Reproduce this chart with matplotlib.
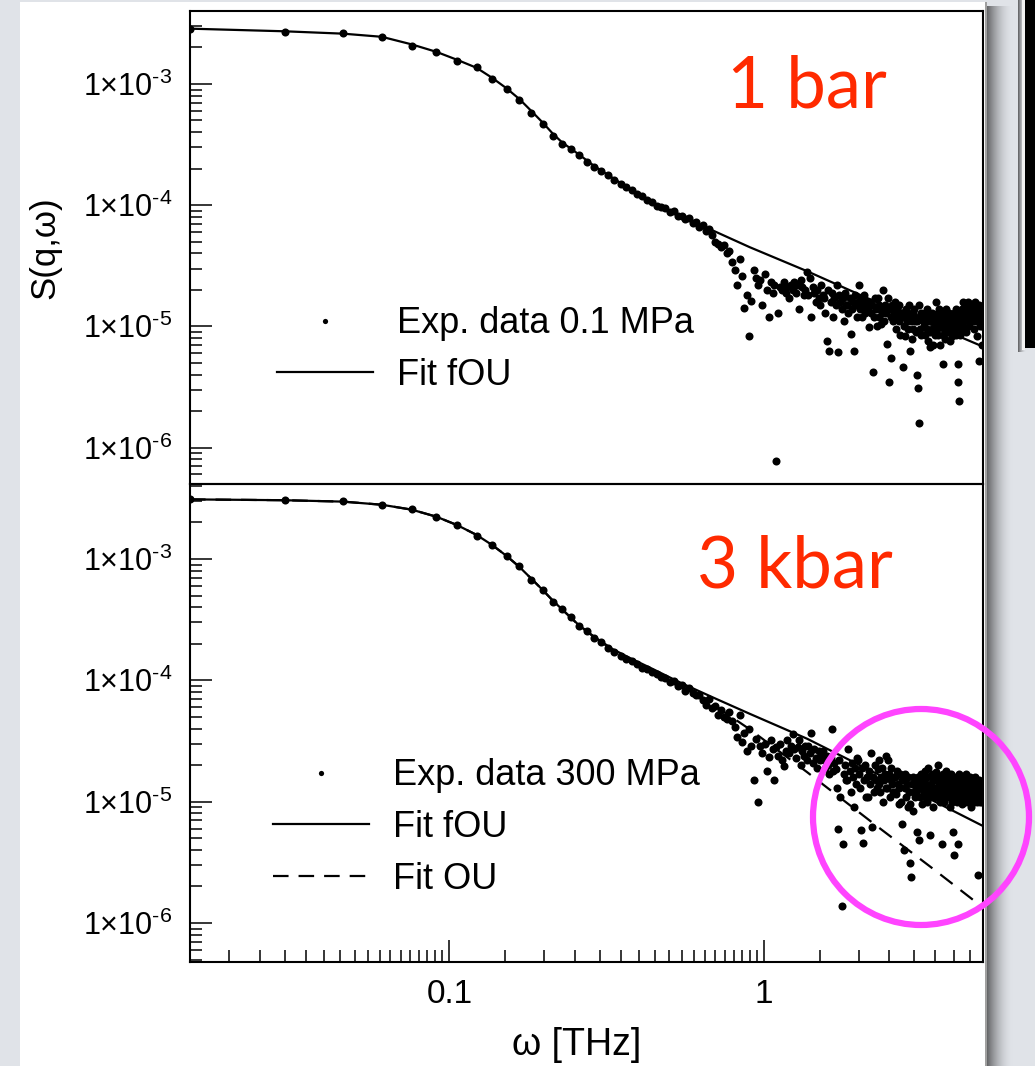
import numpy as np
import matplotlib
matplotlib.use("Agg")
import matplotlib.pyplot as plt
from matplotlib.ticker import LogLocator, NullFormatter
from matplotlib.patches import Rectangle, Circle

plt.rcParams['font.family'] = ['Liberation Sans', 'DejaVu Sans']
plt.rcParams['mathtext.default'] = 'regular'

# ---------------- data ----------------
omega = [
    0.015, 0.030, 0.046, 0.061, 0.076, 0.091, 0.106, 0.122, 0.137, 0.152,
    0.167, 0.182, 0.198, 0.213, 0.228, 0.243, 0.258, 0.274, 0.289, 0.304,
    0.319, 0.334, 0.350, 0.365, 0.380, 0.395, 0.410, 0.426, 0.441, 0.456,
    0.471, 0.486, 0.502, 0.517, 0.532, 0.547, 0.562, 0.578, 0.593, 0.608,
    0.623, 0.638, 0.654, 0.669, 0.684, 0.699, 0.714, 0.730, 0.745, 0.760,
    0.775, 0.790, 0.806, 0.821, 0.836, 0.851, 0.866, 0.882, 0.897, 0.912,
    0.927, 0.942, 0.958, 0.973, 0.988, 1.003, 1.018, 1.034, 1.049, 1.064,
    1.079, 1.094, 1.110, 1.125, 1.140, 1.155, 1.170, 1.186, 1.201, 1.216,
    1.231, 1.246, 1.262, 1.277, 1.292, 1.307, 1.322, 1.338, 1.353, 1.368,
    1.383, 1.398, 1.414, 1.429, 1.444, 1.459, 1.474, 1.490, 1.505, 1.520,
    1.535, 1.550, 1.566, 1.581, 1.596, 1.611, 1.626, 1.642, 1.657, 1.672,
    1.687, 1.702, 1.718, 1.733, 1.748, 1.763, 1.778, 1.794, 1.809, 1.824,
    1.839, 1.854, 1.870, 1.885, 1.900, 1.915, 1.930, 1.946, 1.961, 1.976,
    1.991, 2.006, 2.022, 2.037, 2.052, 2.067, 2.082, 2.098, 2.113, 2.128,
    2.143, 2.158, 2.174, 2.189, 2.204, 2.219, 2.234, 2.250, 2.265, 2.280,
    2.295, 2.310, 2.326, 2.341, 2.356, 2.371, 2.386, 2.402, 2.417, 2.432,
    2.447, 2.462, 2.478, 2.493, 2.508, 2.523, 2.538, 2.554, 2.569, 2.584,
    2.599, 2.614, 2.630, 2.645, 2.660, 2.675, 2.690, 2.706, 2.721, 2.736,
    2.751, 2.766, 2.782, 2.797, 2.812, 2.827, 2.842, 2.858, 2.873, 2.888,
    2.903, 2.918, 2.934, 2.949, 2.964, 2.979, 2.994, 3.010, 3.025, 3.040,
    3.055, 3.070, 3.086, 3.101, 3.116, 3.131, 3.146, 3.162, 3.177, 3.192,
    3.207, 3.222, 3.238, 3.253, 3.268, 3.283, 3.298, 3.314, 3.329, 3.344,
    3.359, 3.374, 3.390, 3.405, 3.420, 3.435, 3.450, 3.466, 3.481, 3.496,
    3.511, 3.526, 3.542, 3.557, 3.572, 3.587, 3.602, 3.618, 3.633, 3.648,
    3.663, 3.678, 3.694, 3.709, 3.724, 3.739, 3.754, 3.770, 3.785, 3.800,
    3.815, 3.830, 3.846, 3.861, 3.876, 3.891, 3.906, 3.922, 3.937, 3.952,
    3.967, 3.982, 3.998, 4.013, 4.028, 4.043, 4.058, 4.074, 4.089, 4.104,
    4.119, 4.134, 4.150, 4.165, 4.180, 4.195, 4.210, 4.226, 4.241, 4.256,
    4.271, 4.286, 4.302, 4.317, 4.332, 4.347, 4.362, 4.378, 4.393, 4.408,
    4.423, 4.438, 4.454, 4.469, 4.484, 4.499, 4.514, 4.530, 4.545, 4.560,
    4.575, 4.590, 4.606, 4.621, 4.636, 4.651, 4.666, 4.682, 4.697, 4.712,
    4.727, 4.742, 4.758, 4.773, 4.788, 4.803, 4.818, 4.834, 4.849, 4.864,
    4.879, 4.894, 4.910, 4.925, 4.940, 4.955,
]

s_exp_01MPa = [
    2.86e-3, 2.66e-3, 2.61e-3, 2.42e-3, 2.07e-3, 1.82e-3, 1.56e-3, 1.37e-3, 1.09e-3, 0.915e-3,
    0.74e-3, 0.58e-3, 0.47e-3, 0.374e-3, 0.321e-3, 0.29e-3, 0.258e-3, 0.228e-3, 0.205e-3, 0.190e-3,
    1.78e-4, 1.60e-4, 1.50e-4, 1.40e-4, 1.33e-4, 1.24e-4, 1.18e-4, 1.10e-4, 1.06e-4, 0.99e-4,
    9.6e-5, 9.5e-5, 8.8e-5, 8.9e-5, 8.2e-5, 8.1e-5, 7.7e-5, 7.9e-5, 7.1e-5, 7.3e-5,
    6.6e-5, 6.8e-5, 6.1e-5, 6.3e-5, 5.7e-5, 5.0e-5, 4.8e-5, 4.5e-5, 4.7e-5, 4.0e-5,
    4.2e-5, 3.4e-5, 2.9e-5, 2.2e-5, 3.6e-5, 2.6e-5, 1.43e-5, 1.8e-5, 8.4e-6, 1.62e-5,
    2.9e-5, 2.5e-5, 2.2e-5, 2.4e-5, 1.5e-5, 2.7e-5, 2.0e-5, 1.2e-5, 2.3e-5, 1.9e-5,
    2.2e-5, 7.8e-7, 1.3e-5, 2.1e-5, 2.0e-5, 2.3e-5, 1.9e-5, 2.1e-5, 1.7e-5, 2.2e-5,
    2.0e-5, 2.3e-5, 1.9e-5, 2.2e-5, 1.4e-5, 2.4e-5, 2.1e-5, 1.8e-5, 2.0e-5, 2.8e-5,
    1.8e-5, 2.5e-5, 1.2e-5, 2.1e-5, 1.9e-5, 1.6e-5, 2.0e-5, 1.7e-5, 1.5e-5, 2.2e-5,
    1.8e-5, 1.7e-5, 1.3e-5, 7.6e-6, 2.0e-5, 6.3e-6, 1.6e-5, 1.9e-5, 1.2e-5, 1.7e-5,
    1.5e-5, 2.2e-5, 6.1e-6, 1.8e-5, 1.6e-5, 1.4e-5, 1.7e-5, 1.1e-5, 1.9e-5, 1.5e-5,
    1.5e-5, 1.3e-5, 1.7e-5, 8.6e-6, 1.4e-5, 1.6e-5, 6.3e-6, 1.8e-5, 1.5e-5, 1.2e-5,
    1.6e-5, 2.2e-5, 1.4e-5, 1.7e-5, 1.2e-5, 1.5e-5, 1.8e-5, 1.3e-5, 1.6e-5, 1.4e-5,
    1.4e-5, 9.8e-6, 1.6e-5, 1.3e-5, 1.5e-5, 4.2e-6, 1.2e-5, 1.7e-5, 1.4e-5, 1.0e-5,
    1.7e-5, 1.2e-5, 1.5e-5, 1.4e-5, 1.05e-5, 1.3e-5, 2.0e-5, 1.1e-5, 1.5e-5, 1.4e-5,
    1.3e-5, 7.2e-6, 1.7e-5, 3.5e-6, 1.4e-5, 5.5e-6, 1.2e-5, 1.5e-5, 1.1e-5, 1.3e-5,
    1.2e-5, 1.6e-5, 9.5e-6, 1.4e-5, 1.3e-5, 1.1e-5, 1.5e-5, 8.5e-6, 1.3e-5, 1.2e-5,
    1.3e-5, 4.6e-6, 1.0e-5, 1.2e-5, 8.4e-6, 1.4e-5, 1.1e-5, 1.3e-5, 9.5e-6, 1.5e-5,
    1.2e-5, 6.2e-6, 1.1e-5, 7.9e-6, 1.3e-5, 9.5e-6, 1.4e-5, 1.1e-5, 1.2e-5, 9.0e-6,
    1.1e-5, 4.0e-6, 3.1e-6, 1.6e-6, 1.5e-5, 9.5e-6, 1.3e-5, 8.5e-6, 1.2e-5, 1.1e-5,
    1.2e-5, 1.0e-5, 1.3e-5, 8.5e-6, 1.1e-5, 1.4e-5, 9.5e-6, 7.5e-6, 1.2e-5, 1.1e-5,
    9.0e-6, 6.7e-6, 1.1e-5, 1.3e-5, 9.5e-6, 7.0e-6, 1.2e-5, 1.25e-5, 1.0e-5, 8.5e-6,
    1.1e-5, 1.6e-5, 9.5e-6, 1.3e-5, 8.5e-6, 1.2e-5, 1.4e-5, 7.0e-6, 1.1e-5, 1.3e-5,
    1.05e-5, 1.2e-5, 4.9e-6, 8.5e-6, 1.3e-5, 9.5e-6, 1.1e-5, 7.9e-6, 1.4e-5, 1.0e-5,
    1.1e-5, 1.2e-5, 9.0e-6, 1.3e-5, 9.5e-6, 1.15e-5, 7.5e-6, 1.25e-5, 1.0e-5, 1.1e-5,
    8.4e-6, 9.2e-6, 1.2e-5, 1.3e-5, 9.5e-6, 1.1e-5, 8.5e-6, 1.4e-5, 1.0e-5, 1.2e-5,
    4.9e-6, 3.5e-6, 2.4e-6, 1.1e-5, 8.5e-6, 1.3e-5, 9.5e-6, 1.2e-5, 1.4e-5, 1.0e-5,
    1.2e-5, 1.6e-5, 1.4e-5, 1.1e-5, 1.3e-5, 9.5e-6, 1.5e-5, 1.2e-5, 9.0e-6, 1.3e-5,
    1.2e-5, 1.3e-5, 1.6e-5, 1.4e-5, 1.0e-5, 1.2e-5, 1.5e-5, 1.1e-5, 1.3e-5, 1.4e-5,
    1.3e-5, 1.5e-5, 1.1e-5, 1.2e-5, 1.4e-5, 9.5e-6, 1.3e-5, 1.6e-5, 1.2e-5, 1.1e-5,
    1.2e-5, 1.4e-5, 8.4e-6, 1.3e-5, 1.1e-5, 1.5e-5, 1.2e-5, 5.2e-6, 1.3e-5, 1.0e-5,
    1.1e-5, 1.3e-5, 7.0e-6, 1.2e-5, 1.0e-5, 1.4e-5,
]

s_exp_300MPa = [
    3.10e-3, 3.04e-3, 2.99e-3, 2.78e-3, 2.57e-3, 2.20e-3, 1.92e-3, 1.56e-3, 1.31e-3, 1.05e-3,
    0.87e-3, 0.67e-3, 0.56e-3, 0.44e-3, 0.39e-3, 0.33e-3, 0.28e-3, 0.255e-3, 0.225e-3, 0.205e-3,
    1.85e-4, 1.72e-4, 1.58e-4, 1.50e-4, 1.45e-4, 1.36e-4, 1.27e-4, 1.25e-4, 1.17e-4, 1.12e-4,
    1.07e-4, 1.04e-4, 9.6e-5, 9.8e-5, 9.0e-5, 9.2e-5, 8.2e-5, 8.6e-5, 7.9e-5, 7.5e-5,
    7.5e-5, 6.9e-5, 6.3e-5, 7.0e-5, 5.9e-5, 6.1e-5, 5.2e-5, 5.7e-5, 5.0e-5, 4.8e-5,
    5.5e-5, 4.6e-5, 4.1e-5, 3.4e-5, 5.2e-5, 3.1e-5, 3.7e-5, 2.6e-5, 4.0e-5, 2.9e-5,
    1.5e-5, 3.3e-5, 1.0e-5, 2.9e-5, 2.5e-5, 3.0e-5, 1.8e-5, 2.35e-5, 3.2e-5, 2.7e-5,
    1.5e-5, 2.8e-5, 2.4e-5, 3.0e-5, 2.2e-5, 1.95e-5, 2.6e-5, 3.2e-5, 2.5e-5, 2.9e-5,
    3.6e-5, 2.7e-5, 2.3e-5, 2.8e-5, 3.2e-5, 2.0e-5, 2.6e-5, 2.4e-5, 2.9e-5, 2.2e-5,
    2.9e-5, 2.5e-5, 3.7e-5, 2.1e-5, 2.7e-5, 2.3e-5, 1.9e-5, 2.6e-5, 2.2e-5, 2.4e-5,
    2.6e-5, 2.2e-5, 1.9e-5, 2.4e-5, 2.0e-5, 1.7e-5, 2.3e-5, 4.0e-5, 1.8e-5, 2.1e-5,
    1.85e-5, 1.3e-5, 6.0e-6, 2.2e-5, 1.1e-5, 1.37e-6, 4.5e-6, 1.7e-5, 2.0e-5, 1.5e-5,
    1.5e-5, 2.7e-5, 1.8e-5, 1.2e-5, 2.1e-5, 1.6e-5, 9.0e-6, 1.9e-5, 1.4e-5, 2.3e-5,
    2.2e-5, 1.7e-5, 1.3e-5, 5.8e-6, 1.9e-5, 4.6e-6, 1.5e-5, 2.0e-5, 1.1e-5, 1.6e-5,
    1.1e-5, 1.8e-5, 1.4e-5, 2.5e-5, 6.2e-6, 1.6e-5, 1.2e-5, 2.0e-5, 1.5e-5, 1.3e-5,
    1.85e-5, 1.4e-5, 2.2e-5, 1.2e-5, 1.6e-5, 1.9e-5, 1.0e-5, 1.5e-5, 1.7e-5, 1.3e-5,
    2.4e-5, 1.3e-5, 2.2e-5, 1.7e-5, 1.1e-5, 1.5e-5, 1.9e-5, 1.4e-5, 1.2e-5, 1.6e-5,
    1.2e-5, 1.6e-5, 1.15e-5, 1.8e-5, 1.4e-5, 9.5e-6, 1.3e-5, 1.7e-5, 1.0e-5, 1.5e-5,
    6.6e-6, 1.5e-5, 4.0e-6, 1.3e-5, 1.7e-5, 1.1e-5, 1.4e-5, 9.0e-6, 1.6e-5, 1.2e-5,
    9.5e-6, 3.1e-6, 2.4e-6, 1.4e-5, 8.4e-6, 1.6e-5, 1.2e-5, 1.5e-5, 1.1e-5, 1.3e-5,
    1.25e-5, 5.6e-6, 1.6e-5, 4.8e-6, 1.4e-5, 1.1e-5, 1.7e-5, 1.3e-5, 9.5e-6, 1.5e-5,
    1.5e-5, 1.2e-5, 1.8e-5, 1.1e-5, 1.4e-5, 1.6e-5, 1.0e-5, 1.3e-5, 1.9e-5, 1.2e-5,
    1.1e-5, 5.3e-6, 1.4e-5, 1.7e-5, 1.2e-5, 1.5e-5, 9.0e-6, 1.3e-5, 1.6e-5, 1.1e-5,
    1.75e-5, 1.3e-5, 1.5e-5, 1.1e-5, 2.0e-5, 1.4e-5, 1.2e-5, 1.6e-5, 1.0e-5, 1.3e-5,
    1.45e-5, 4.5e-6, 1.2e-5, 1.7e-5, 1.3e-5, 1.0e-5, 1.5e-5, 1.1e-5, 1.8e-5, 1.4e-5,
    1.3e-5, 1.6e-5, 1.1e-5, 1.4e-5, 1.2e-5, 9.0e-6, 1.5e-5, 1.3e-5, 1.7e-5, 1.0e-5,
    1.2e-5, 5.6e-6, 3.6e-6, 1.5e-5, 1.3e-5, 1.1e-5, 1.6e-5, 1.4e-5, 1.0e-5, 1.2e-5,
    1.5e-5, 4.5e-6, 1.3e-5, 1.7e-5, 1.1e-5, 1.4e-5, 1.2e-5, 1.6e-5, 9.5e-6, 1.3e-5,
    1.35e-5, 1.1e-5, 1.5e-5, 1.2e-5, 1.6e-5, 1.0e-5, 1.4e-5, 1.3e-5, 1.7e-5, 1.1e-5,
    1.2e-5, 1.4e-5, 1.0e-5, 1.5e-5, 1.3e-5, 1.1e-5, 1.6e-5, 1.2e-5, 9.0e-6, 1.4e-5,
    1.3e-5, 1.1e-5, 1.5e-5, 1.2e-5, 1.4e-5, 1.0e-5, 1.3e-5, 1.6e-5, 1.1e-5, 1.2e-5,
    1.2e-5, 1.4e-5, 1.0e-5, 1.3e-5, 2.5e-6, 1.1e-5, 1.5e-5, 1.2e-5, 1.0e-5, 1.3e-5,
    1.1e-5, 1.4e-5, 1.2e-5, 1.0e-5, 1.3e-5, 1.1e-5,
]

fit_omega = [0.015, 0.030, 0.046, 0.061, 0.076, 0.091, 0.106, 0.122, 0.137, 0.152,
             0.167, 0.182, 0.198, 0.213, 0.228, 0.258, 0.289, 0.33, 0.38, 0.44,
             0.55, 0.69, 0.90, 1.37, 2.28, 3.44, 4.96]
fit_fou_01MPa = [2.86e-3, 2.72e-3, 2.60e-3, 2.45e-3, 2.12e-3, 1.84e-3, 1.58e-3, 1.36e-3, 1.12e-3, 0.92e-3,
                 0.75e-3, 0.60e-3, 0.48e-3, 0.39e-3, 0.33e-3, 0.262e-3, 0.21e-3, 0.168e-3, 0.133e-3, 1.06e-4,
                 8.0e-5, 6.15e-5, 4.5e-5, 2.85e-5, 1.58e-5, 1.02e-5, 6.8e-6]
fit_fou_300MPa = [3.10e-3, 3.05e-3, 2.97e-3, 2.80e-3, 2.55e-3, 2.23e-3, 1.90e-3, 1.58e-3, 1.30e-3, 1.06e-3,
                  0.86e-3, 0.69e-3, 0.555e-3, 0.455e-3, 0.385e-3, 0.285e-3, 0.228e-3, 0.181e-3, 0.150e-3, 1.25e-4,
                  9.4e-5, 7.2e-5, 5.3e-5, 3.3e-5, 1.70e-5, 1.02e-5, 6.3e-6]
fit_ou_300MPa = [3.10e-3, 3.05e-3, 2.97e-3, 2.80e-3, 2.55e-3, 2.23e-3, 1.90e-3, 1.58e-3, 1.30e-3, 1.06e-3,
                 0.86e-3, 0.69e-3, 0.555e-3, 0.455e-3, 0.385e-3, 0.284e-3, 0.226e-3, 0.178e-3, 0.146e-3, 1.19e-4,
                 8.7e-5, 6.3e-5, 3.95e-5, 1.75e-5, 6.3e-6, 2.8e-6, 1.34e-6]

ytick_values = [1e-6, 1e-5, 1e-4, 1e-3]
ytick_labels = ['1×10$^{\u20106}$', '1×10$^{\u20105}$', '1×10$^{\u20104}$', '1×10$^{\u20103}$']
xtick_values = [0.1, 1]
xtick_labels = ['0.1', '1']

# ---------------- figure ----------------
W, H = 1035, 1066
fig = plt.figure(figsize=(W / 100, H / 100), dpi=100)

bg = fig.add_axes([0, 0, 1, 1], zorder=0)
bg.set_xlim(0, W)
bg.set_ylim(H, 0)
bg.axis('off')
bg_col = np.array([0.878, 0.89, 0.91])
bg.add_patch(Rectangle((0, 0), W, H, color=bg_col, lw=0))
# drop shadow right of the white picture
t = np.linspace(0, 1, 60)
fade = (1 - t) ** 1.8
dark = np.array([0.36, 0.36, 0.37])
grad = (dark[None, :] * fade[:, None] + bg_col[None, :] * (1 - fade[:, None]))[None, :, :]
bg.imshow(grad, extent=[986, 1013, H, 6], aspect='auto', interpolation='bilinear', zorder=1)
bg.add_patch(Rectangle((20, 2), 967, H, color='white', lw=0, zorder=2))
bg.add_patch(Rectangle((984.5, 2), 2.5, H, color='#a0a0a0', lw=0, zorder=2.5))
# black slide element at top-right
bg.imshow(grad, extent=[1018, 1026, 352, 0], aspect='auto', interpolation='bilinear', zorder=1)
bg.add_patch(Rectangle((1022, 0), 3, 350, color='#f2f2f2', lw=0, zorder=2))
bg.add_patch(Rectangle((1025, 0), 12, 348, color='black', lw=0, zorder=3))

ax1 = fig.add_axes([190 / W, 1 - 484 / H, 793 / W, 473 / H], zorder=2)
ax2 = fig.add_axes([190 / W, 1 - 962 / H, 793 / W, 478 / H], zorder=2, sharex=ax1)

for ax in (ax1, ax2):
    ax.set_xscale('log')
    ax.set_yscale('log')
    ax.set_facecolor('none')
    for sp in ax.spines.values():
        sp.set_linewidth(1.5)
    ax.tick_params(which='both', direction='in', top=False, right=False,
                   width=1.1, colors='black')
    ax.tick_params(which='major', length=16)
    ax.tick_params(which='minor', length=8.5)
    ax.tick_params(axis='y', which='major', labelsize=22, pad=13)
    ax.tick_params(axis='x', which='major', labelsize=24, pad=12)
    ax.set_yticks(ytick_values, labels=ytick_labels)
    ax.yaxis.set_minor_locator(LogLocator(base=10, subs=np.arange(2, 10), numticks=50))
    ax.yaxis.set_minor_formatter(NullFormatter())

ax1.set_xlim(0.015, 4.96)
ax1.set_ylim(5e-7, 4e-3)
ax2.set_ylim(4.77e-7, 4.15e-3)
ax2.set_xticks(xtick_values, labels=xtick_labels)
ax2.xaxis.set_minor_locator(LogLocator(base=10, subs=np.arange(1.5, 10, 0.5), numticks=100))
ax2.xaxis.set_minor_formatter(NullFormatter())
ax1.tick_params(axis='x', which='both', bottom=False, labelbottom=False)

ms = 5.8
d1, = ax1.plot(omega, s_exp_01MPa, 'o', ms=ms, color='black', mec='none', zorder=3)
f1, = ax1.plot(fit_omega, fit_fou_01MPa, '-', color='black', lw=1.6, zorder=4)
d2, = ax2.plot(omega, s_exp_300MPa, 'o', ms=ms, color='black', mec='none', zorder=3)
f2, = ax2.plot(fit_omega, fit_fou_300MPa, '-', color='black', lw=1.6, zorder=4)
o2, = ax2.plot(fit_omega, fit_ou_300MPa, color='black', lw=1.6, zorder=4,
               dashes=(7, 4.5))

leg_kw = dict(loc='upper left', frameon=False, fontsize=26, handlelength=2.66,
              handletextpad=0.665, labelspacing=0.46, borderpad=0, borderaxespad=0,
              markerscale=0.65, numpoints=1)
ax1.legend([d1, f1], ['Exp. data 0.1 MPa', 'Fit fOU'],
           bbox_to_anchor=(0.1097, 0.3755), **leg_kw)
ax2.legend([d2, f2, o2], ['Exp. data 300 MPa', 'Fit fOU', 'Fit OU'],
           bbox_to_anchor=(0.1047, 0.426), **leg_kw)

# axis titles
fig.text(45 / W, 1 - 248 / H, 'S(q,ω)', rotation=90, ha='center', va='center', fontsize=25)
fig.text(577 / W, 1 - 1045 / H, 'ω [THz]', ha='center', va='center', fontsize=27)

# overlay annotations
ov = fig.add_axes([0, 0, 1, 1], zorder=5)
ov.set_xlim(0, W)
ov.set_ylim(H, 0)
ov.axis('off')
ov.patch.set_alpha(0)
red = '#ff2a00'
ov.text(727, 107, '1 bar', color=red, fontsize=51, family='Lato', ha='left', va='baseline')
ov.text(697, 587, '3 kbar', color=red, fontsize=51, family='Lato', ha='left', va='baseline')
ov.add_patch(Circle((921, 817), 108, fill=False, edgecolor='#ff44ff', lw=4.5))

fig.savefig('out.png', dpi=100)
